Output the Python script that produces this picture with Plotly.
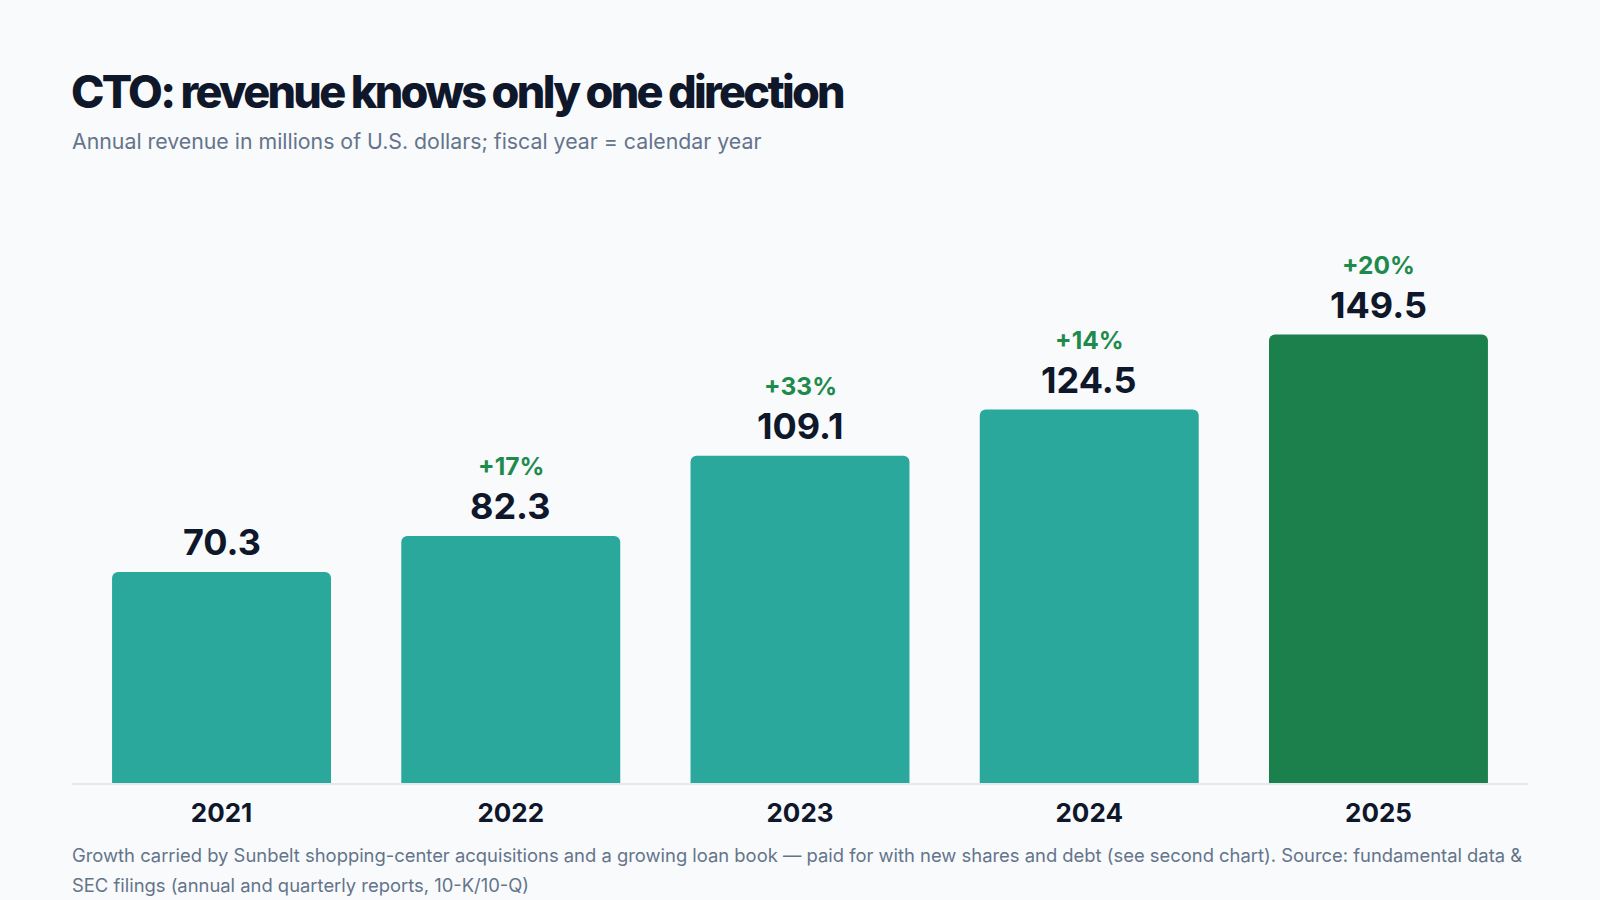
import plotly.graph_objects as go

years = ["2021", "2022", "2023", "2024", "2025"]
revenue = [70.3, 82.3, 109.1, 124.5, 149.5]
growth_labels = ["", "+17%", "+33%", "+14%", "+20%"]

TEAL = "#2aa89b"
GREEN = "#1b804b"
bar_colors = [TEAL] * 4 + [GREEN]

fig = go.Figure()
fig.add_trace(go.Bar(
    x=years, y=revenue,
    marker=dict(color=bar_colors, line=dict(width=0), cornerradius=6),
    hoverinfo="skip",
))

# value + growth labels above bars (x given as category index,
# since plotly reads "2021" as index 2021 on a category axis)
for i, (v, g) in enumerate(zip(revenue, growth_labels)):
    fig.add_annotation(x=i, y=v, text=f"<b>{v:.1f}</b>", showarrow=False,
                       yanchor="middle", yshift=30,
                       font=dict(family="Inter", size=36, color="#0f172a"))
    if g:
        fig.add_annotation(x=i, y=v, text=f"<b>{g}</b>", showarrow=False,
                           yanchor="middle", yshift=70,
                           font=dict(family="Inter", size=24.5, color="#1e8a4c"))

fig.add_annotation(xref="paper", yref="paper", x=0, y=1.065, xanchor="left", yanchor="middle",
                   xshift=-2,
                   text="Annual revenue in millions of U.S. dollars; fiscal year = calendar year",
                   showarrow=False, font=dict(family="Inter", size=21.3, color="#64748b"))

foot = ["Growth carried by Sunbelt shopping-center acquisitions and a growing loan book \u2014 paid for with new shares and debt (see second chart). Source: fundamental data &",
        "SEC filings (annual and quarterly reports, 10-K/10-Q)"]
for i, line in enumerate(foot):
    fig.add_annotation(xref="paper", yref="paper", x=0, y=-0.1194 - i * 0.05, xanchor="left", yanchor="middle",
                       xshift=-2, text=line, showarrow=False,
                       font=dict(family="Inter", size=18.4, color="#64748b"))

title = "CTO: revenue knows only one direction"
fig.update_layout(
    width=1600, height=900,
    paper_bgcolor="#f8fafc", plot_bgcolor="#f8fafc",
    margin=dict(l=72, r=72, t=180, b=117),
    title=dict(text=f'<span style="letter-spacing:-2.7px">{title}</span>', x=71 / 1600, xanchor="left",
               xref="container", y=1 - 92 / 900, yanchor="middle",
               font=dict(family="Inter", size=45, color="#0f172a", weight=800)),
    bargap=0.243,
    showlegend=False,
    xaxis=dict(type="category", range=[-0.517, 4.517], showgrid=False, showline=True,
               linecolor="#e2e8f0", linewidth=2, ticks="", ticklabelstandoff=6,
               tickfont=dict(family="Inter", size=26, color="#0f172a", weight=700)),
    yaxis=dict(range=[0, 201], visible=False, showgrid=False),
)

fig.write_html("out.html", config={"displayModeBar": False},
               post_script="document.body.style.margin='0';")
